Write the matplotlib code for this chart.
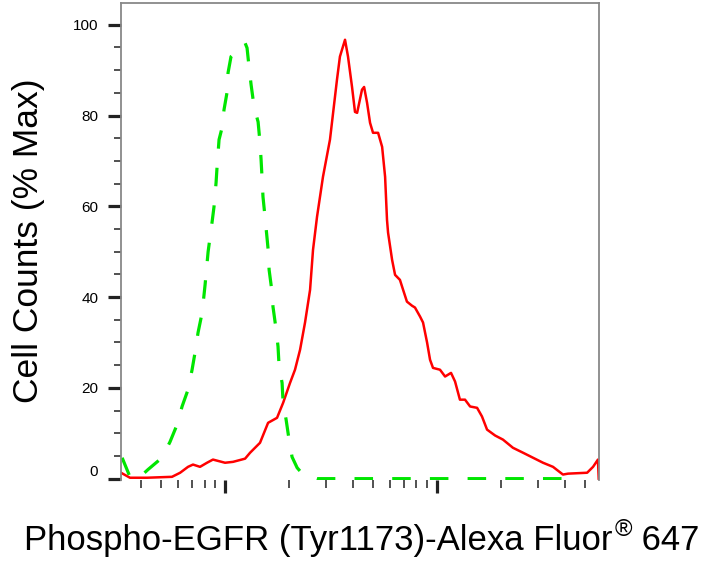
import matplotlib
matplotlib.use("Agg")
import matplotlib.pyplot as plt
from matplotlib.ticker import FixedLocator, LogLocator, NullFormatter, FixedFormatter

plt.rcParams['font.family'] = ['Liberation Sans', 'DejaVu Sans']

# ---- data ----
green_x = [32.7, 35.6, 38.9, 43.3, 50.4, 55.0, 59.4, 62.7, 66.9, 69.9, 72.2, 74.6, 78.0,
           80.5, 83.2, 86.9, 88.7, 90.7, 91.7, 93.7, 96.8, 98.9, 102.1, 103.3, 106.7,
           115.1, 124.3, 127.0, 129.8, 132.7, 137.1, 143.2, 146.2, 147.9, 149.6, 151.0,
           154.5, 159.6, 161.4, 166.7, 168.3, 174.2, 177.8, 179.9, 185.8, 187.9, 194.1,
           200.4, 207.0, 218.8, 233.3, 271.6, 4732]
green_y = [4.6, 0.4, 0.0, 2.0, 4.6, 8.1, 11.9, 15.9, 19.6, 24.0, 27.8, 32.2, 36.6,
           42.7, 50.0, 56.6, 59.9, 65.2, 68.7, 74.7, 77.3, 81.3, 85.0, 89.4, 93.0,
           94.5, 96.0, 94.9, 90.7, 86.8, 81.9, 78.6, 74.0, 70.3, 65.9, 62.1,
           57.5, 50.6, 46.0, 41.0, 37.9, 32.8, 29.1, 24.7, 21.1, 16.7, 13.0,
           8.6, 4.8, 2.4, 0.9, 0.0, 0.0]

red_x = [32.3, 35.6, 42.9, 56.2, 61.4, 66.9, 70.6, 76.2, 82.2, 87.7, 100.0, 109.1, 124.3,
         131.2, 146.2, 159.6, 175.9, 187.9, 202.6, 213.8, 225.9, 238.4, 251.8, 260.0,
         271.6, 289.7, 312.6, 337.3, 348.3, 368.1, 380.2, 397.2, 410.2, 419.8, 442.6,
         452.9, 467.7, 483.1, 498.9, 527.2, 550.8, 568.9, 580.8, 587.5, 613.8, 633.9,
         668.3, 691.8, 721.1, 762.1, 787.0, 831.8, 859.0, 897.4, 926.8, 957.2, 1032.7,
         1091.4, 1164.1, 1216.2, 1282.3, 1355.2, 1432.2, 1545.2, 1629.3, 1721.8, 1879.3,
         2046.4, 2280.4, 2546.8, 2837.9, 3162.3, 3523.7, 3926.4, 4149.4, 5105.3, 5445.0,
         5741.0, 5790.0]
red_y = [1.3, 0.2, 0.2, 0.4, 1.3, 2.6, 3.1, 2.6, 3.5, 4.2, 3.5, 3.7, 4.4,
         5.7, 7.9, 12.3, 13.4, 16.7, 21.1, 24.0, 28.4, 34.4, 41.6, 50.4,
         57.7, 66.5, 74.7, 87.9, 93.0, 96.7, 93.0, 86.3, 80.8, 80.6, 85.7,
         86.3, 82.8, 78.4, 76.2, 76.2, 73.1, 66.5, 57.0, 54.2, 48.2, 44.9,
         43.8, 41.6, 39.0, 38.1, 37.7, 35.7, 34.4, 30.0, 26.2, 24.4, 24.0,
         22.5, 23.3, 21.4, 17.4, 17.4, 15.9, 15.6, 13.7, 10.8, 9.5,
         8.6, 6.8, 5.7, 4.6, 3.5, 2.6, 0.9, 1.1, 1.3, 2.6,
         4.2, 0.0]

y_major = [0, 20, 40, 60, 80, 100]
y_labels = ['', '20', '40', '60', '80', '100']
x_major = [100, 1000]

xlabel_main = "Phospho-EGFR (Tyr1173)-Alexa Fluor"
xlabel_mark = "\u00ae"
xlabel_tail = " 647"
ylabel = "Cell Counts (% Max)"

# ---- figure ----
W, H = 706, 567
fig = plt.figure(figsize=(W/100, H/100), dpi=100)
ax = fig.add_axes([121/W, 1-480/H, (599-121)/W, (480-3)/H])

ax.plot(red_x, red_y, color='#ff0000', lw=1.8, solid_joinstyle='round')
ax.plot(green_x, green_y, color='#00e600', lw=2.3, dashes=(5.8, 6.0))

ax.set_xscale('log')
ax.set_xlim(32.3, 5808)
ax.set_ylim(-0.3, 104.8)

ax.xaxis.set_major_locator(FixedLocator(x_major))
ax.xaxis.set_minor_locator(LogLocator(base=10, subs=[2, 3, 4, 5, 6, 7, 8, 9]))
ax.xaxis.set_major_formatter(NullFormatter())
ax.xaxis.set_minor_formatter(NullFormatter())

ax.yaxis.set_major_locator(FixedLocator(y_major))
ax.yaxis.set_major_formatter(FixedFormatter(y_labels))
ax.yaxis.set_minor_locator(FixedLocator([v for v in range(5, 101, 5) if v % 20 != 0]))

ax.tick_params(axis='both', which='major', direction='out', length=9.4, width=2.3,
               color='#222222', labelsize=11, pad=7.0)
ax.tick_params(axis='both', which='minor', direction='out', length=5.0, width=1.1,
               color='#222222')
ax.tick_params(axis='x', which='minor', length=5.5)

for s in ['left', 'top', 'right']:
    ax.spines[s].set_color('#888888')
    ax.spines[s].set_linewidth(1.3)
ax.spines['bottom'].set_visible(False)

ax.annotate('0', xy=(0, 0), xycoords=('axes fraction', 'data'),
            xytext=(-16.6, 5.0), textcoords='offset points',
            ha='right', va='center', fontsize=11)

# x label composed of three pieces (small superscript registered mark)
fig.canvas.draw()
r = fig.canvas.get_renderer()
t1 = fig.text(24/W, 1-550/H, xlabel_main, ha='left', va='baseline', fontsize=25)
e1 = t1.get_window_extent(r)
t2 = fig.text((e1.x1 + 2)/W, 1-519/H, xlabel_mark, ha='left', va='top', fontsize=17)
e2 = t2.get_window_extent(r)
t3 = fig.text((e2.x1)/W, 1-550/H, xlabel_tail, ha='left', va='baseline', fontsize=25)

fig.text(29/W, 1-241/H, ylabel, ha='center', va='center', rotation=90, fontsize=25.5)

fig.savefig('out.png', dpi=100)
